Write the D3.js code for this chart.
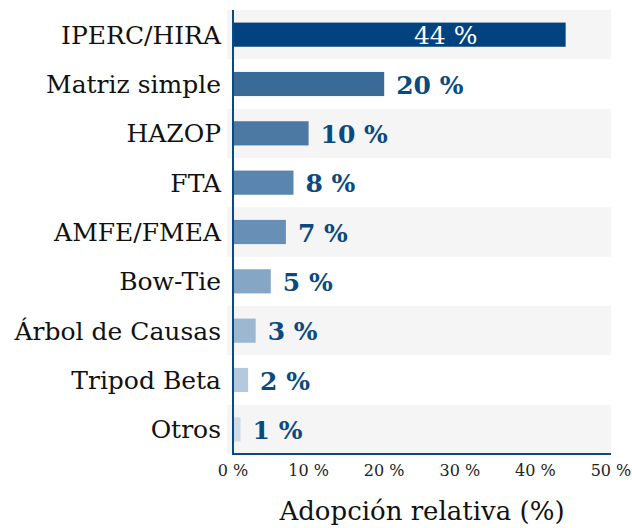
<!DOCTYPE html>
<html>
<head>
<meta charset="utf-8">
<script src="https://cdn.jsdelivr.net/npm/d3@7"></script>
<style>
	body { margin: 0; background: #fff; }
</style>
</head>
<body>
<div id="chart"></div>
<script>
const categories = ["IPERC/HIRA", "Matriz simple", "HAZOP", "FTA", "AMFE/FMEA", "Bow-Tie", "Árbol de Causas", "Tripod Beta", "Otros"];
const values = [44, 20, 10, 8, 7, 5, 3, 2, 1];
const barColors = ["#02437f", "#3a6a97", "#4b79a4", "#5a85ae", "#6890b7", "#86a6c6", "#9db7d1", "#b4c8de", "#cfdbe8"];
const xTicks = [0, 10, 20, 30, 40, 50];

const params = {
	selector: "#chart",
	width: 632,
	height: 528,
	left: 233,
	right: 611,
	top: 10,
	bottom: 454,
	ink: "#0b4a80",
	font: "DejaVu Serif"
}

const svg = d3.select(params.selector)
	.append("svg")
	.attr("width", params.width)
	.attr("height", params.height)
	.attr("font-family", params.font)

const xScale = d3.scaleLinear()
	.domain([0, 50])
	.range([params.left, params.right])

const yScale = d3.scaleBand()
	.domain(categories)
	.range([params.top, params.bottom])

const step = yScale.step();
const barH = step * 0.49;

// alternating stripes
svg.append("g")
	.selectAll("rect")
	.data(categories.filter((d, i) => i % 2 == 0))
	.join("rect")
	.attr("x", params.left - 6)
	.attr("y", d => yScale(d))
	.attr("width", params.right - params.left + 6)
	.attr("height", step)
	.attr("fill", "#f5f5f5")

const rows = categories.map((c, i) => ({cat: c, value: values[i], color: barColors[i]}));

svg.append("g")
	.selectAll("rect")
	.data(rows)
	.join("rect")
	.attr("x", xScale(0))
	.attr("y", d => yScale(d.cat) + (step - barH) / 2)
	.attr("width", d => xScale(d.value) - xScale(0))
	.attr("height", barH)
	.attr("fill", d => d.color)

// category labels
svg.append("g")
	.selectAll("text")
	.data(rows)
	.join("text")
	.attr("x", params.left - 12)
	.attr("y", d => yScale(d.cat) + step / 2)
	.attr("dy", "0.36em")
	.attr("text-anchor", "end")
	.attr("font-size", 25)
	.attr("fill", "#111")
	.text(d => d.cat)

// value labels (the long bar gets its label inside, in white)
svg.append("g")
	.selectAll("text")
	.data(rows)
	.join("text")
	.attr("x", d => d.value > 30 ? xScale(d.value) - 120 : xScale(d.value) + 12)
	.attr("y", d => yScale(d.cat) + step / 2)
	.attr("dy", "0.38em")
	.attr("text-anchor", d => d.value > 30 ? "middle" : "start")
	.attr("font-size", 25)
	.attr("font-weight", d => d.value > 30 ? "normal" : "bold")
	.attr("fill", d => d.value > 30 ? "#fff" : params.ink)
	.text(d => d.value + " %")

// axes lines
svg.append("line")
	.attr("x1", params.left).attr("x2", params.left)
	.attr("y1", params.top).attr("y2", params.bottom + 1)
	.attr("stroke", params.ink).attr("stroke-width", 2)
svg.append("line")
	.attr("x1", params.left - 1).attr("x2", params.right)
	.attr("y1", params.bottom).attr("y2", params.bottom)
	.attr("stroke", params.ink).attr("stroke-width", 2)

// x tick labels
svg.append("g")
	.selectAll("text")
	.data(xTicks)
	.join("text")
	.attr("x", d => xScale(d))
	.attr("y", 476)
	.attr("text-anchor", "middle")
	.attr("font-size", 16)
	.attr("fill", "#222")
	.text(d => d + " %")

svg.append("text")
	.attr("x", (params.left + params.right) / 2)
	.attr("y", 520)
	.attr("text-anchor", "middle")
	.attr("font-size", 26)
	.attr("fill", "#111")
	.text("Adopción relativa (%)")
</script>
</body>
</html>
